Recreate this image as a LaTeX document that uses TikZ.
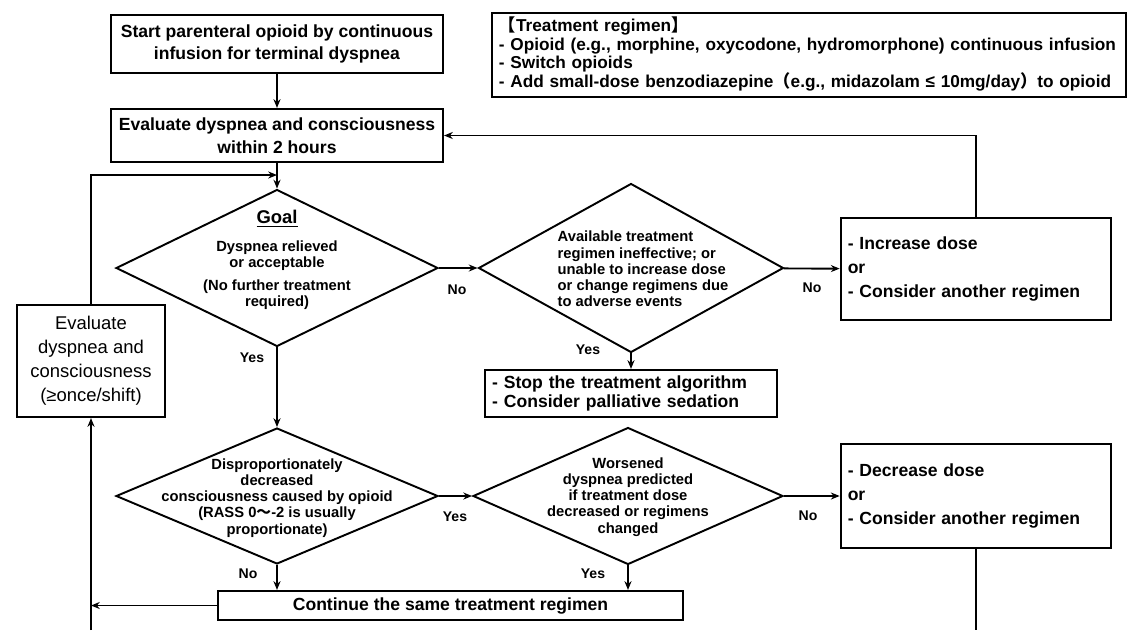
\documentclass[tikz,border=0pt]{standalone}
\usepackage{fontspec}
\setmainfont{Liberation Sans}
\newfontfamily\cjk{Noto Sans CJK JP}
\newcommand{\wide}[1]{\smash{{\cjk #1}}}
\usetikzlibrary{shapes.geometric, arrows.meta, calc}

\tikzset{
  box/.style={draw, line width=1.2pt, align=center, inner sep=0pt,
    font=\bfseries\fontsize{10}{13}\selectfont},
  listbox/.style={draw, line width=1.2pt, align=left, inner xsep=4pt, inner ysep=0pt,
    font=\bfseries\fontsize{10}{13.9}\selectfont},
  dia/.style={diamond, draw, line width=1.1pt, inner sep=0pt},
  diatext/.style={align=center, inner sep=0pt, font=\bfseries\fontsize{8.4}{9.2}\selectfont},
  lbl/.style={font=\bfseries\fontsize{8}{9}\selectfont},
  flow/.style={line width=1.1pt, -{Stealth[length=5pt,width=4pt]}},
  link/.style={line width=1.1pt}
}

\begin{document}
\begin{tikzpicture}[x=0.02cm, y=-0.02cm]
    \useasboundingbox (0,0) rectangle (1140,630);
    \node[
    box,
    minimum width = 6.64cm,
    minimum height = 1.16cm
    ] (start) at (277,44){Start parenteral opioid by continuous\\infusion for terminal dyspnea};
    \node[
    box,
    minimum width = 6.64cm,
    minimum height = 1.06cm
    ] (eval) at (277,135.5){Evaluate dyspnea and consciousness\\within 2 hours};
    \node[
    listbox,
    text width = 353pt,
    minimum height = 1.68cm,
    font = \bfseries\fontsize{9.8}{10.6}\selectfont
    ] (regimen) at (809,55){\wide{【}Treatment regimen\wide{】}\\
      - Opioid (e.g., morphine, oxycodone, hydromorphone) continuous infusion\\
      - Switch opioids\\
      - Add small-dose benzodiazepine\wide{（}e.g., midazolam ≤ 10mg/day\wide{）}to opioid};
    \node[
    box,
    font = \fontsize{10.5}{13.6}\selectfont,
    minimum width = 2.96cm,
    minimum height = 2.24cm
    ] (recheck) at (91,361){Evaluate\\dyspnea and\\consciousness\\(≥once/shift)};
    % decisions
    \node[dia, minimum width = 6.44cm, minimum height = 3.14cm] (goal) at (277,268){};
    \node[diatext] (goaltext) at (277,260){{\fontsize{10.5}{12}\selectfont\underline{Goal}}\\[6.5pt]
      Dyspnea relieved\\or acceptable\\[4pt](No further treatment\\required)};
    \node[dia, minimum width = 6.1cm, minimum height = 3.38cm] (fail) at (631,268){};
    \node[diatext, align = left] (failtext) at (643,269){Available treatment\\regimen ineffective; or\\
      unable to increase dose\\or change regimens due\\to adverse events};
    \node[dia, minimum width = 6.44cm, minimum height = 2.72cm] (drowsy) at (277,496){};
    \node[diatext] (drowsytext) at (277,498){Disproportionately\\decreased\\
      consciousness caused by opioid\\(RASS 0\wide{〜}-2 is usually\\proportionate)};
    \node[dia, minimum width = 6.2cm, minimum height = 2.74cm] (worse) at (628,496){};
    \node[diatext] (worsetext) at (628,497){Worsened\\dyspnea predicted\\if treatment dose\\
      decreased or regimens\\changed};
    % actions
    \node[listbox, text width = 146pt, minimum height = 2.04cm] (increase) at (976,269)
      {- Increase dose\\or\\- Consider another regimen};
    \node[listbox, text width = 146pt, minimum height = 2.08cm] (decrease) at (976,496)
      {- Decrease dose\\or\\- Consider another regimen};
    \node[
    listbox,
    text width = 158pt,
    minimum height = 0.94cm,
    font = \bfseries\fontsize{10}{10.5}\selectfont
    ] (stop) at (631,393.5){- Stop the treatment algorithm\\- Consider palliative sedation};
    \node[box, minimum width = 9.3cm, minimum height = 0.58cm] (continue) at (450.5,605.5)
      {Continue the same treatment regimen};
    \node[lbl] (no1) at (457,290){No};
    \node[lbl] (no2) at (812,288){No};
    \node[lbl] (yes1) at (588,350){Yes};
    \node[lbl] (yes2) at (252,358){Yes};
    \node[lbl] (yes3) at (455,517){Yes};
    \node[lbl] (no3) at (808,516){No};
    \node[lbl] (no4) at (248,574){No};
    \node[lbl] (yes4) at (593,574){Yes};
    \coordinate (loopin) at (277,175);
    \coordinate (leftjoin) at (91,605.5);
    \coordinate (leftend) at (91,630);
    \coordinate (decend) at (976,630);
    \draw[flow] (start) -- (eval);
    \draw[flow] (eval) -- (goal);
    \draw[flow] (recheck) |- (loopin);
    \draw[flow] (goal) -- (fail);
    \draw[flow] (fail) -- (increase);
    \draw[flow] (fail) -- (stop);
    \draw[flow] (increase) |- (eval);
    \draw[flow] (goal) -- (drowsy);
    \draw[flow] (drowsy) -- (worse);
    \draw[flow] (worse) -- (decrease);
    \draw[flow] (drowsy.south) -- (drowsy.south |- continue.north);
    \draw[flow] (worse.south) -- (worse.south |- continue.north);
    \draw[flow] (continue) -- (leftjoin);
    \draw[flow] (leftend) -- (recheck);
    \draw[link] (decrease) -- (decend);
  \end{tikzpicture}
\end{document}
